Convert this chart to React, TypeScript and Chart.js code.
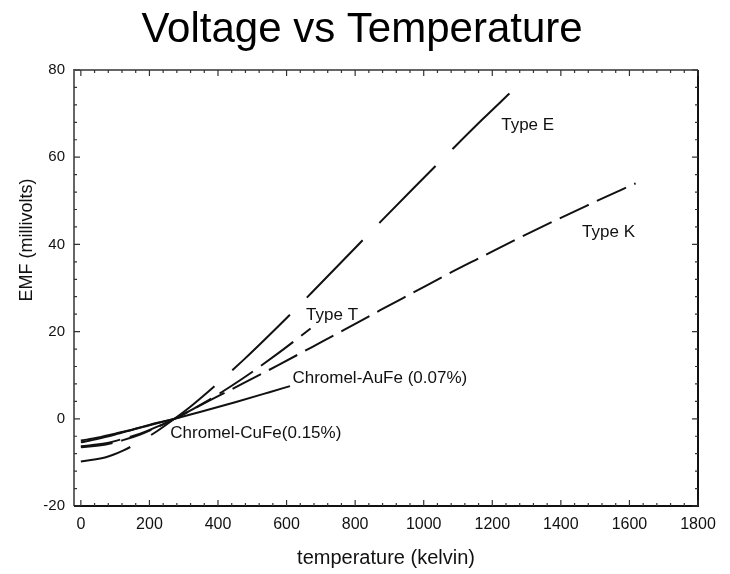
import { useEffect, useRef } from "react";
import { Chart, registerables } from "chart.js";

Chart.register(...registerables);

// Temperature (kelvin) and EMF (millivolts)
const typeE_T = [0, 73, 123, 173, 223, 273, 323, 373, 473, 573, 673, 773, 873, 973, 1073, 1173, 1250];
const typeE_V = [-9.8, -8.8, -7.3, -5.2, -2.8, 0, 3.0, 6.3, 13.4, 21.0, 28.9, 37.0, 45.1, 53.1, 61.0, 68.8, 74.6];

const typeK_T = [0, 73, 123, 173, 223, 273, 373, 473, 573, 673, 773, 873, 973, 1073, 1173, 1273, 1373, 1473, 1573, 1618];
const typeK_V = [-6.5, -5.9, -4.9, -3.6, -1.9, 0, 4.1, 8.1, 12.2, 16.4, 20.6, 24.9, 29.1, 33.3, 37.3, 41.3, 45.1, 48.8, 52.4, 54.0];

const typeT_T = [0, 73, 123, 173, 223, 273, 373, 473, 573, 670];
const typeT_V = [-6.3, -5.6, -4.6, -3.4, -1.8, 0, 4.3, 9.3, 14.9, 20.7];

const auFe_T = [0, 50, 100, 150, 200, 273, 350, 450, 550, 610];
const auFe_V = [-5.0, -4.3, -3.4, -2.5, -1.5, 0, 1.6, 3.8, 6.1, 7.5];

const cuFe_T = [0, 50, 100, 150, 200, 273, 290];
const cuFe_V = [-5.4, -4.6, -3.6, -2.5, -1.4, 0, 0.4];

const xTicks = [0, 200, 400, 600, 800, 1000, 1200, 1400, 1600, 1800];
const yTicks = [-20, 0, 20, 40, 60, 80];

const chartTitle = "Voltage vs Temperature";

// curve labels: text and the data point (kelvin, mV) at the start of its baseline
const labelTexts = ["Type E", "Type K", "Type T", "Chromel-AuFe (0.07%)", "Chromel-CuFe(0.15%)"];
const labelT = [1226, 1462, 657, 617, 261];
const labelV = [66.2, 41.7, 22.7, 8.2, -4.4];

const toPoints = (xs: number[], ys: number[]) => xs.map((x, i) => ({ x, y: ys[i] }));

const FONT = "'Liberation Sans', Arial, Helvetica, sans-serif";

const framePlugin = {
  id: "frameAndLabels",
  afterDraw(chart: any) {
    const { ctx, chartArea } = chart;
    const { left, right, top, bottom } = chartArea;
    const xs = chart.scales.x;
    const ys = chart.scales.y;
    ctx.save();
    // title
    ctx.fillStyle = "#000";
    ctx.font = `42px ${FONT}`;
    ctx.textAlign = "center";
    ctx.textBaseline = "alphabetic";
    ctx.fillText(chartTitle, 362, 42);

    // frame
    ctx.lineWidth = 2;
    ctx.strokeStyle = "#666";
    ctx.beginPath();
    ctx.moveTo(left, bottom);
    ctx.lineTo(left, top);
    ctx.lineTo(right, top);
    ctx.stroke();
    ctx.strokeStyle = "#111";
    ctx.beginPath();
    ctx.moveTo(right, top);
    ctx.lineTo(right, bottom);
    ctx.lineTo(left, bottom);
    ctx.stroke();

    // inward ticks
    ctx.lineWidth = 1.2;
    ctx.strokeStyle = "#333";
    for (let v = 0; v <= 1800; v += 40) {
      const px = xs.getPixelForValue(v);
      const len = v % 200 === 0 ? 6 : 3;
      ctx.beginPath();
      ctx.moveTo(px, bottom);
      ctx.lineTo(px, bottom - len);
      ctx.moveTo(px, top);
      ctx.lineTo(px, top + len);
      ctx.stroke();
    }
    for (let v = -20; v <= 80; v += 4) {
      const py = ys.getPixelForValue(v);
      const len = v % 20 === 0 ? 6 : 3;
      ctx.beginPath();
      ctx.moveTo(left, py);
      ctx.lineTo(left + len, py);
      ctx.moveTo(right, py);
      ctx.lineTo(right - len, py);
      ctx.stroke();
    }

    // curve labels
    ctx.fillStyle = "#111";
    ctx.font = `17px ${FONT}`;
    ctx.textAlign = "left";
    ctx.textBaseline = "alphabetic";
    labelTexts.forEach((t, i) => {
      ctx.fillText(t, xs.getPixelForValue(labelT[i]), ys.getPixelForValue(labelV[i]));
    });

    // y axis title
    ctx.translate(27, 240);
    ctx.rotate(-Math.PI / 2);
    ctx.font = `18px ${FONT}`;
    ctx.textAlign = "center";
    ctx.textBaseline = "middle";
    ctx.fillText("EMF (millivolts)", 0, 0);
    ctx.restore();
  },
};

export default function App() {
  const ref = useRef<HTMLCanvasElement | null>(null);
  useEffect(() => {
    if (!ref.current) return;
    const common = {
      borderColor: "#111",
      borderWidth: 2,
      pointRadius: 0,
      fill: false,
      cubicInterpolationMode: "monotone" as const,
    };
    const chart = new Chart(ref.current, {
      type: "line",
      data: {
        datasets: [
          { ...common, label: "Type E", data: toPoints(typeE_T, typeE_V), borderDash: [80, 24], borderDashOffset: 28 },
          { ...common, label: "Type K", data: toPoints(typeK_T, typeK_V), borderDash: [32, 9] },
          { ...common, label: "Type T", data: toPoints(typeT_T, typeT_V), borderDash: [40, 10] },
          { ...common, label: "Chromel-AuFe (0.07%)", data: toPoints(auFe_T, auFe_V) },
          { ...common, label: "Chromel-CuFe(0.15%)", data: toPoints(cuFe_T, cuFe_V) },
        ],
      },
      options: {
        responsive: false,
        animation: false,
        devicePixelRatio: 1,
        layout: { padding: { left: 0, right: 32, top: 70, bottom: 0 } },
        plugins: {
          legend: { display: false },
          tooltip: { enabled: false },
          title: { display: false },
        },
        scales: {
          x: {
            type: "linear",
            min: -20,
            max: 1800,
            grid: { display: false, drawTicks: false },
            border: { display: false },
            afterBuildTicks: (s: any) => {
              s.ticks = xTicks.map((value) => ({ value }));
            },
            afterFit: (s: any) => {
              s.height = 68;
            },
            ticks: {
              color: "#111",
              padding: 9,
              maxRotation: 0,
              autoSkip: false,
              font: { family: FONT, size: 16 },
              callback: (v: any) => String(v),
            },
            title: {
              display: true,
              text: "temperature (kelvin)",
              color: "#111",
              font: { family: FONT, size: 20 },
              padding: { top: 0, bottom: 4 },
            },
          },
          y: {
            type: "linear",
            min: -20,
            max: 80,
            grid: { display: false, drawTicks: false },
            border: { display: false },
            afterBuildTicks: (s: any) => {
              s.ticks = yTicks.map((value) => ({ value }));
            },
            afterFit: (s: any) => {
              s.width = 74;
            },
            ticks: {
              color: "#111",
              padding: 9,
              autoSkip: false,
              font: { family: FONT, size: 15 },
              callback: (v: any) => String(v),
            },
          },
        },
      },
      plugins: [framePlugin],
    });
    return () => chart.destroy();
  }, []);
  return (
    <div style={{ position: "absolute", left: 0, top: 0, width: 730, height: 574, background: "#fff" }}>
      <canvas ref={ref} width={730} height={574} style={{ display: "block" }} />
    </div>
  );
}
